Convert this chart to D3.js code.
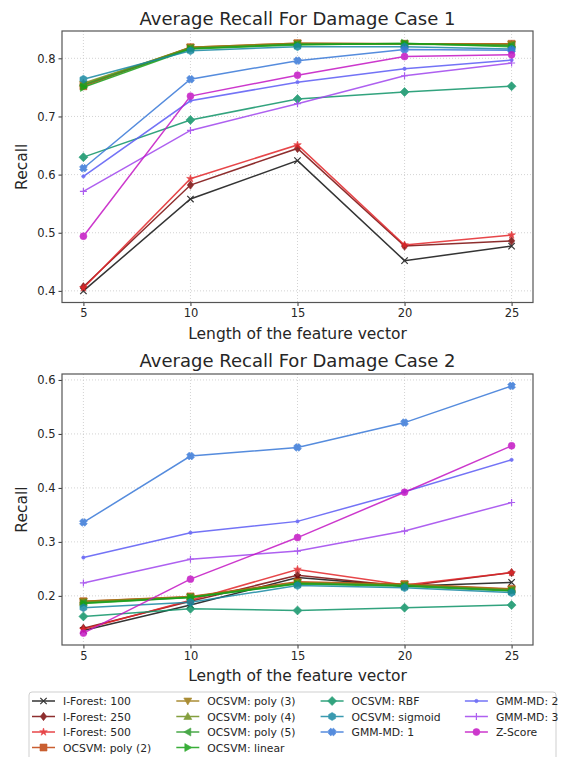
<!DOCTYPE html>
<html lang="en">
<head>
<meta charset="UTF-8">
<title>Average Recall</title>
<script src="https://d3js.org/d3.v7.min.js"></script>
<style>
  body { margin: 0; background: #fff; }
  text { font-family: "DejaVu Sans", sans-serif; fill: #262626; }
</style>
</head>
<body>
<script>
// feature vector lengths (x)
var featureLengths = [5, 10, 15, 20, 25];

var seriesNames = [
  'I-Forest: 100', 'I-Forest: 250', 'I-Forest: 500', 'OCSVM: poly (2)',
  'OCSVM: poly (3)', 'OCSVM: poly (4)', 'OCSVM: poly (5)', 'OCSVM: linear',
  'OCSVM: RBF', 'OCSVM: sigmoid', 'GMM-MD: 1',
  'GMM-MD: 2', 'GMM-MD: 3', 'Z-Score'
];

// recall, damage case 1 (one row per series, same order as names)
var case1Recall = [
  [0.400, 0.558, 0.624, 0.452, 0.477],
  [0.407, 0.582, 0.645, 0.477, 0.486],
  [0.405, 0.593, 0.651, 0.479, 0.496],
  [0.752, 0.819, 0.826, 0.825, 0.825],
  [0.755, 0.819, 0.826, 0.825, 0.824],
  [0.757, 0.818, 0.825, 0.824, 0.823],
  [0.754, 0.817, 0.824, 0.825, 0.822],
  [0.750, 0.816, 0.823, 0.826, 0.820],
  [0.630, 0.694, 0.730, 0.742, 0.752],
  [0.764, 0.813, 0.820, 0.820, 0.816],
  [0.611, 0.764, 0.796, 0.815, 0.814],
  [0.597, 0.727, 0.759, 0.782, 0.797],
  [0.571, 0.676, 0.722, 0.770, 0.792],
  [0.494, 0.735, 0.771, 0.803, 0.806]
];

// recall, damage case 2
var case2Recall = [
  [0.136, 0.183, 0.234, 0.218, 0.225],
  [0.140, 0.190, 0.238, 0.218, 0.243],
  [0.138, 0.192, 0.249, 0.220, 0.243],
  [0.190, 0.199, 0.226, 0.222, 0.213],
  [0.190, 0.198, 0.225, 0.221, 0.212],
  [0.188, 0.198, 0.224, 0.220, 0.211],
  [0.187, 0.197, 0.223, 0.219, 0.210],
  [0.186, 0.197, 0.222, 0.218, 0.209],
  [0.162, 0.176, 0.173, 0.178, 0.183],
  [0.178, 0.188, 0.219, 0.215, 0.206],
  [0.336, 0.459, 0.475, 0.521, 0.589],
  [0.271, 0.317, 0.338, 0.393, 0.452],
  [0.224, 0.268, 0.283, 0.320, 0.373],
  [0.131, 0.231, 0.308, 0.392, 0.478]
];

var yTicks1 = [0.4, 0.5, 0.6, 0.7, 0.8];
var yTicks2 = [0.2, 0.3, 0.4, 0.5, 0.6];

var colors = ['#111111', '#7b0a0a', '#e3262a', '#c1440e', '#9c7a12', '#6f8f1c',
              '#2a9a2a', '#17a117', '#0f9468', '#1889a3', '#3878d8', '#5b5bf5',
              '#a045ee', '#c416c4'];
var markers = ['x', 'd', 'star', 's', 'v', '^', '<', '>', 'D', 'h', 'X', '.', '+', 'o'];

var W = 568, H = 757;
var svg = d3.select('body').append('svg').attr('width', W).attr('height', H);

// marker path around 0,0
function markerPath(m) {
  var r;
  switch (m) {
    case 'x': r = 3.2; return 'M' + -r + ',' + -r + 'L' + r + ',' + r + 'M' + -r + ',' + r + 'L' + r + ',' + -r;
    case '+': r = 3.5; return 'M' + -r + ',0L' + r + ',0M0,' + -r + 'L0,' + r;
    case 'd': return 'M0,-4.2L3.2,0L0,4.2L-3.2,0Z';
    case 'D': return 'M0,-4.5L4.5,0L0,4.5L-4.5,0Z';
    case 's': return 'M-3.5,-3.5L3.5,-3.5L3.5,3.5L-3.5,3.5Z';
    case 'v': return 'M-4,-3L4,-3L0,4Z';
    case '^': return 'M-4,3L4,3L0,-4Z';
    case '<': return 'M3,-4L3,4L-4,0Z';
    case '>': return 'M-3,-4L-3,4L4,0Z';
    case 'star': return d3.symbol(d3.symbolStar, 18)();
    case 'h': return d3.range(6).map(function (i) {
        var a = Math.PI / 3 * i + Math.PI / 2;
        return (i ? 'L' : 'M') + (4 * Math.cos(a)).toFixed(2) + ',' + (4 * Math.sin(a)).toFixed(2);
      }).join('') + 'Z';
    case 'X': return 'M-1.3,-3.9L0,-2.6L1.3,-3.9L3.9,-1.3L2.6,0L3.9,1.3L1.3,3.9L0,2.6L-1.3,3.9L-3.9,1.3L-2.6,0L-3.9,-1.3Z';
    case '.': return d3.symbol(d3.symbolCircle, 9)();
    default: return d3.symbol(d3.symbolCircle, 38)();
  }
}
function isStrokeMarker(m) { return m === 'x' || m === '+'; }

function drawMarker(g, m, color, x, y) {
  var p = g.append('path').attr('d', markerPath(m))
    .attr('transform', 'translate(' + x + ',' + y + ')');
  if (isStrokeMarker(m)) p.attr('fill', 'none').attr('stroke', color).attr('stroke-width', 1.2);
  else p.attr('fill', color).attr('stroke', color).attr('stroke-width', 0.6);
  return p;
}

function drawPanel(opts) {
  var x = d3.scaleLinear().domain([4, 26]).range([opts.left, opts.right]);
  var y = d3.scaleLinear().domain(opts.yDomain).range([opts.bottom, opts.top]);
  var g = svg.append('g');

  // grid
  g.append('g').selectAll('line').data(featureLengths).enter().append('line')
    .attr('x1', function (d) { return x(d); }).attr('x2', function (d) { return x(d); })
    .attr('y1', opts.top).attr('y2', opts.bottom)
    .attr('stroke', '#c8c8c8').attr('stroke-width', 0.8).attr('stroke-dasharray', '1,2');
  g.append('g').selectAll('line').data(opts.yTicks).enter().append('line')
    .attr('x1', opts.left).attr('x2', opts.right)
    .attr('y1', function (d) { return y(d); }).attr('y2', function (d) { return y(d); })
    .attr('stroke', '#c8c8c8').attr('stroke-width', 0.8).attr('stroke-dasharray', '1,2');

  // axes
  var ax = g.append('g').attr('transform', 'translate(0,' + opts.bottom + ')')
    .call(d3.axisBottom(x).tickValues(featureLengths).tickSize(3.5).tickPadding(3));
  var ay = g.append('g').attr('transform', 'translate(' + opts.left + ',0)')
    .call(d3.axisLeft(y).tickValues(opts.yTicks).tickFormat(d3.format('.1f')).tickSize(3.5).tickPadding(3));
  [ax, ay].forEach(function (a) {
    a.select('.domain').remove();
    a.selectAll('.tick line').attr('stroke', '#333');
    a.selectAll('.tick text').attr('font-size', 11.5).attr('font-family', 'DejaVu Sans').attr('fill', '#333');
  });

  // lines + markers
  var line = d3.line().x(function (d, i) { return x(featureLengths[i]); }).y(function (d) { return y(d); });
  opts.values.forEach(function (row, s) {
    var sg = g.append('g').attr('opacity', 0.85);
    sg.append('path').attr('d', line(row)).attr('fill', 'none')
      .attr('stroke', colors[s]).attr('stroke-width', 1.5);
    row.forEach(function (v, i) { drawMarker(sg, markers[s], colors[s], x(featureLengths[i]), y(v)); });
  });

  // frame
  g.append('rect').attr('x', opts.left).attr('y', opts.top)
    .attr('width', opts.right - opts.left).attr('height', opts.bottom - opts.top)
    .attr('fill', 'none').attr('stroke', '#555').attr('stroke-width', 1.2);

  g.append('text').attr('x', (opts.left + opts.right) / 2).attr('y', opts.titleY)
    .attr('text-anchor', 'middle').attr('font-size', 18).text(opts.title);
  g.append('text').attr('x', (opts.left + opts.right) / 2).attr('y', opts.bottom + 36)
    .attr('text-anchor', 'middle').attr('font-size', 15.5).text('Length of the feature vector');
  g.append('text').attr('transform', 'translate(27,' + (opts.top + opts.bottom) / 2 + ') rotate(-90)')
    .attr('text-anchor', 'middle').attr('font-size', 15.5).text('Recall');
}

drawPanel({ left: 62, right: 533, top: 31, bottom: 302.5, yDomain: [0.380, 0.847],
  yTicks: yTicks1, values: case1Recall, title: 'Average Recall For Damage Case 1', titleY: 25 });
drawPanel({ left: 62, right: 533, top: 374, bottom: 645, yDomain: [0.109, 0.611],
  yTicks: yTicks2, values: case2Recall, title: 'Average Recall For Damage Case 2', titleY: 367 });

// legend, 4 columns filled top to bottom
var legend = svg.append('g');
legend.append('rect').attr('x', 29).attr('y', 692).attr('width', 527).attr('height', 70)
  .attr('rx', 3).attr('fill', '#fff').attr('stroke', '#cfcfcf').attr('stroke-width', 1);
var colSizes = [4, 4, 3, 3];
var idx = 0;
colSizes.forEach(function (n, c) {
  for (var r = 0; r < n; r++, idx++) {
    var lx = 32 + c * 144.3, ly = 701 + r * 15.5;
    var it = legend.append('g').attr('opacity', 0.85);
    it.append('line').attr('x1', lx).attr('x2', lx + 23).attr('y1', ly).attr('y2', ly)
      .attr('stroke', colors[idx]).attr('stroke-width', 1.5);
    drawMarker(it, markers[idx], colors[idx], lx + 11.5, ly);
    legend.append('text').attr('x', lx + 31).attr('y', ly + 4).attr('font-size', 10.8)
      .text(seriesNames[idx]);
  }
});
</script>
</body>
</html>
